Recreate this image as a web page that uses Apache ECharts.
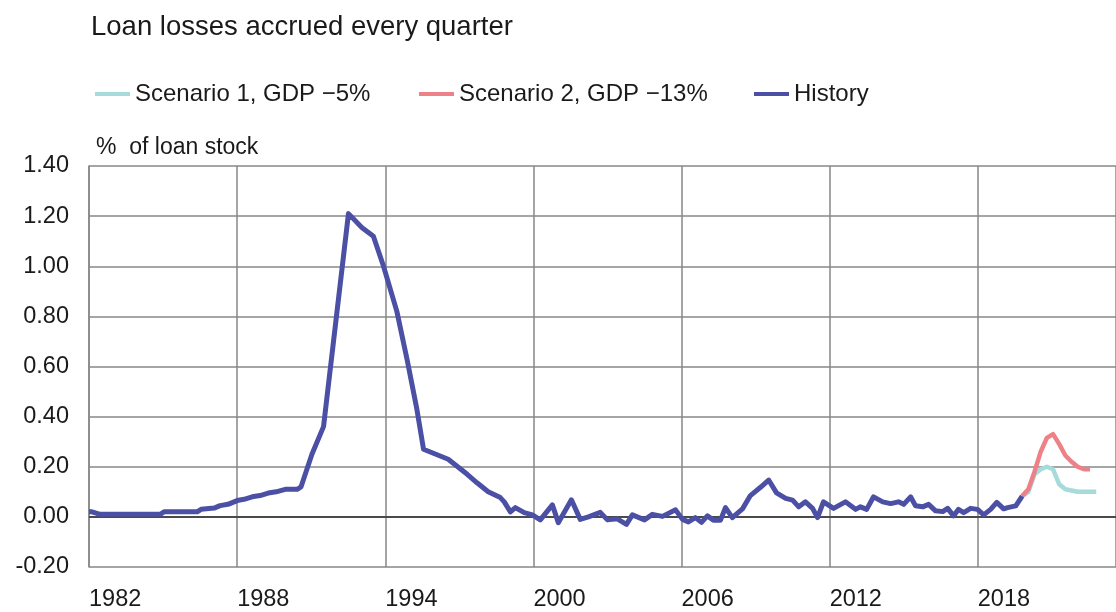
<!DOCTYPE html>
<html>
<head>
<meta charset="utf-8">
<script src="https://cdn.jsdelivr.net/npm/echarts@6/dist/echarts.min.js"></script>
<style>
html,body{margin:0;padding:0;background:#fff;}
#chart{width:1116px;height:612px;}
</style>
</head>
<body>
<div id="chart"></div>
<script>
// ---- Data ----
const historyYears = [
  1982.00, 1982.12, 1982.45, 1984.88, 1985.04, 1986.38, 1986.54, 1987.07, 1987.31, 1987.63,
  1988.00, 1988.28, 1988.61, 1988.93, 1989.26, 1989.58, 1989.95, 1990.43, 1990.59, 1991.03,
  1991.50, 1992.51, 1993.05, 1993.52, 1993.93, 1994.47, 1994.88, 1995.28, 1995.55, 1996.55,
  1997.32, 1997.73, 1998.17, 1998.66, 1998.82, 1999.07, 1999.27, 1999.63, 1999.96, 2000.28,
  2000.77, 2001.01, 2001.54, 2001.90, 2002.23, 2002.71, 2003.00, 2003.40, 2003.77, 2004.01,
  2004.50, 2004.82, 2005.23, 2005.76, 2006.04, 2006.28, 2006.56, 2006.81, 2007.05, 2007.29,
  2007.58, 2007.78, 2008.06, 2008.47, 2008.79, 2009.20, 2009.53, 2009.85, 2010.22, 2010.50,
  2010.75, 2011.02, 2011.31, 2011.51, 2011.75, 2012.16, 2012.64, 2013.05, 2013.25, 2013.50,
  2013.78, 2014.15, 2014.47, 2014.79, 2015.00, 2015.28, 2015.48, 2015.77, 2016.01, 2016.29,
  2016.58, 2016.78, 2017.02, 2017.22, 2017.43, 2017.71, 2017.99, 2018.24, 2018.52, 2018.77,
  2019.05, 2019.21, 2019.54, 2019.80
];
const historyValues = [
  0.02, 0.02, 0.01, 0.01, 0.02, 0.02, 0.03, 0.035, 0.045, 0.05,
  0.065, 0.07, 0.08, 0.085, 0.095, 0.10, 0.11, 0.11, 0.12, 0.25,
  0.36, 1.21, 1.155, 1.12, 1.00, 0.82, 0.63, 0.43, 0.27, 0.23,
  0.17, 0.135, 0.10, 0.077, 0.06, 0.02, 0.037, 0.017, 0.008, -0.012,
  0.048, -0.023, 0.068, -0.01, 0.0, 0.018, -0.012, -0.008, -0.03, 0.008,
  -0.012, 0.01, 0.002, 0.028, -0.01, -0.02, -0.003, -0.022, 0.004, -0.013,
  -0.013, 0.037, -0.003, 0.032, 0.085, 0.118, 0.147, 0.096, 0.074, 0.067,
  0.04, 0.06, 0.034, -0.003, 0.06, 0.034, 0.06, 0.03, 0.04, 0.03,
  0.08, 0.06, 0.053, 0.06, 0.05, 0.08, 0.044, 0.04, 0.05, 0.024,
  0.021, 0.034, 0.004, 0.03, 0.017, 0.034, 0.03, 0.008, 0.03, 0.058,
  0.032, 0.037, 0.044, 0.083
];
const scenarioYears = [2019.80, 2020.05, 2020.30, 2020.55, 2020.80, 2021.05, 2021.30, 2021.55, 2021.80, 2022.05, 2022.30, 2022.55, 2022.80];
const scenario1Values = [0.083, 0.10, 0.17, 0.19, 0.20, 0.19, 0.13, 0.11, 0.105, 0.10, 0.10, 0.10, 0.10];
const scenario2Values = [0.083, 0.11, 0.18, 0.26, 0.315, 0.33, 0.29, 0.245, 0.22, 0.20, 0.19, 0.19];
const xTickLabels = [1982, 1988, 1994, 2000, 2006, 2012, 2018];
const seriesNames = ['Scenario 1, GDP \u22125%', 'Scenario 2, GDP \u221213%', 'History'];

// ---- Styling ----
const FONT = "'Liberation Sans', Arial, Helvetica, sans-serif";
const TXT = '#1a1a1a';
const GRID = '#878787';
const COL_S1 = '#a6dadb';
const COL_S2 = '#ee8088';
const COL_H = '#4b50a5';

const pairs = (xs, ys) => ys.map((v, i) => [xs[i], v]);

const chart = echarts.init(document.getElementById('chart'), null, {renderer: 'canvas'});
const legendBase = {
  top: 77, icon: 'rect', itemWidth: 35, itemHeight: 4,
  textStyle: {fontFamily: FONT, fontSize: 24, color: TXT}, selectedMode: false
};
chart.setOption({
  animation: false,
  backgroundColor: '#fff',
  title: [
    {text: 'Loan losses accrued every quarter', left: 86, top: 8,
     textStyle: {fontFamily: FONT, fontSize: 27.5, fontWeight: 'normal', color: TXT}},
    {text: '%  of loan stock', left: 91, top: 131,
     textStyle: {fontFamily: FONT, fontSize: 23, fontWeight: 'normal', color: TXT}}
  ],
  legend: [
    Object.assign({}, legendBase, {left: 90, data: [seriesNames[0]]}),
    Object.assign({}, legendBase, {left: 414, data: [seriesNames[1]]}),
    Object.assign({}, legendBase, {left: 749, data: [seriesNames[2]]})
  ],
  grid: {left: 89, right: 0, top: 166, bottom: 42, containLabel: false},
  xAxis: {
    type: 'value', min: 1982, max: 2023.6, interval: 6,
    axisLine: {show: false}, axisTick: {show: false},
    axisLabel: {
      fontFamily: FONT, fontSize: 23.5, color: TXT, align: 'left', margin: 21,
      showMaxLabel: false,
      formatter: v => xTickLabels.indexOf(Math.round(v)) >= 0 && Math.abs(v - Math.round(v)) < 1e-6 ? String(Math.round(v)) : ''
    },
    splitLine: {show: true, lineStyle: {color: GRID, width: 1.5}}
  },
  yAxis: {
    type: 'value', min: -0.2, max: 1.4, interval: 0.2,
    axisLine: {show: true, lineStyle: {color: GRID, width: 1.5}}, axisTick: {show: false},
    axisLabel: {fontFamily: FONT, fontSize: 23.5, color: TXT, margin: 20,
      formatter: v => (Math.abs(v) < 1e-9 ? 0 : v).toFixed(2)},
    splitLine: {show: true, lineStyle: {color: GRID, width: 1.5}}
  },
  series: [
    {
      name: seriesNames[0], type: 'line', z: 2, showSymbol: false, symbol: 'none',
      data: pairs(scenarioYears, scenario1Values),
      lineStyle: {color: COL_S1, width: 4.5, join: 'round'}, itemStyle: {color: COL_S1},
      markLine: {
        silent: true, symbol: 'none', z: 1, label: {show: false},
        lineStyle: {color: '#4a4a4a', width: 2, type: 'solid'},
        data: [{yAxis: 0}]
      }
    },
    {
      name: seriesNames[1], type: 'line', z: 3, showSymbol: false, symbol: 'none',
      data: pairs(scenarioYears, scenario2Values),
      lineStyle: {color: COL_S2, width: 4.5, join: 'round'}, itemStyle: {color: COL_S2}
    },
    {
      name: seriesNames[2], type: 'line', z: 4, showSymbol: false, symbol: 'none',
      data: pairs(historyYears, historyValues),
      lineStyle: {color: COL_H, width: 5, join: 'round'}, itemStyle: {color: COL_H}
    }
  ]
});
</script>
</body>
</html>
